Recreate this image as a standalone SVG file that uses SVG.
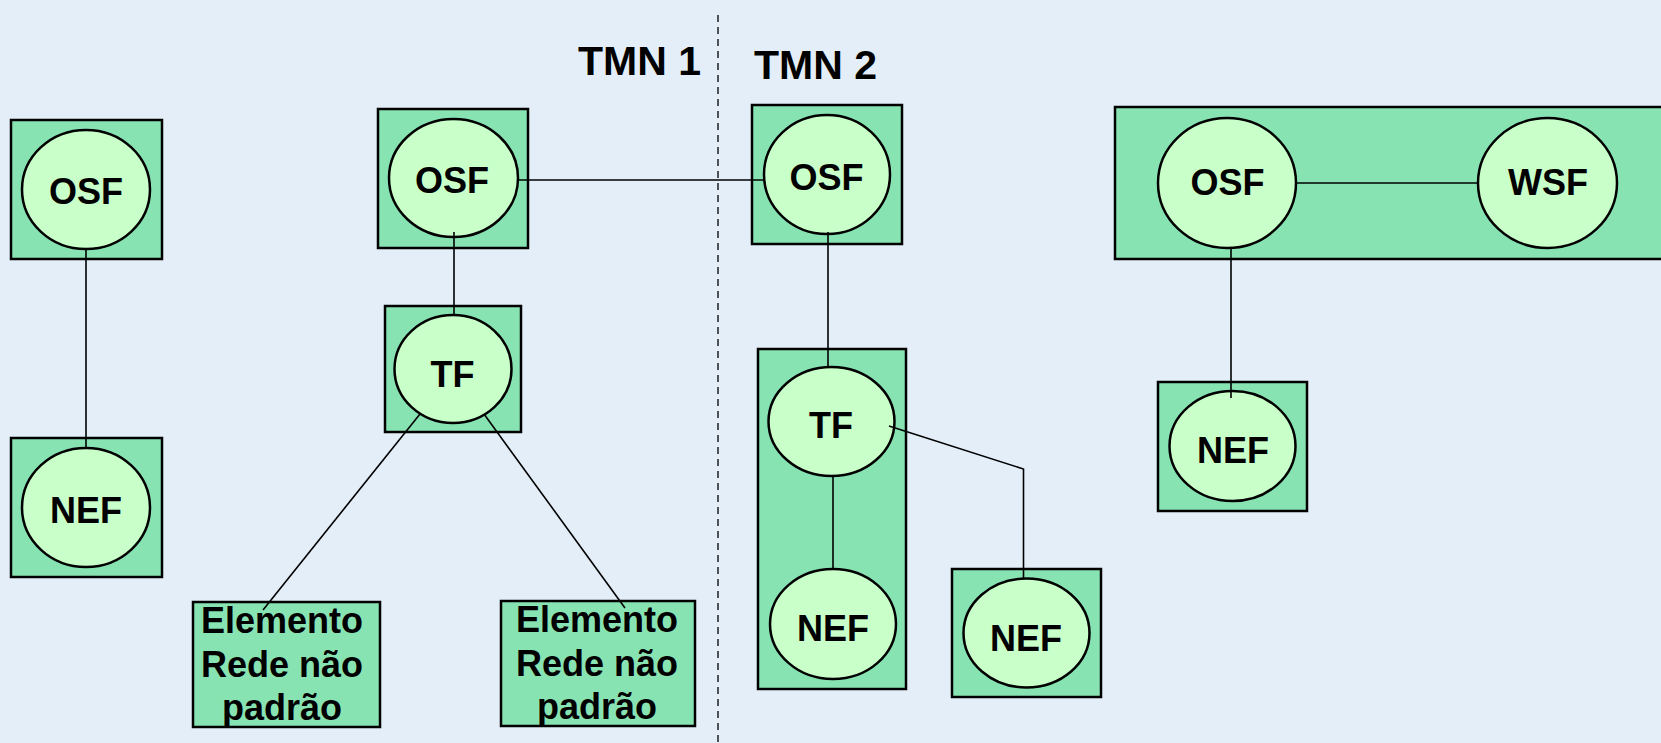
<svg xmlns="http://www.w3.org/2000/svg" width="1661" height="743" viewBox="0 0 1661 743">
<style>
.box{fill:#88E3B3;stroke:#000;stroke-width:2.5}
.ell{fill:#C9FFC9;stroke:#000;stroke-width:2.5}
.lbl{font-family:"Liberation Sans",Arial,sans-serif;font-weight:bold;font-size:36px;fill:#000;text-anchor:middle}
.ttl{font-family:"Liberation Sans",Arial,sans-serif;font-weight:bold;font-size:41px;fill:#000}
.ln{stroke:#000;stroke-width:1.6;fill:none}
</style>
<rect x="0" y="0" width="1661" height="743" fill="#E3EEF9"/>
<line x1="718" y1="15" x2="718" y2="743" stroke="#000" stroke-width="1.3" stroke-dasharray="7,5"/>
<text class="ttl" x="578" y="75">TMN 1</text>
<text class="ttl" x="754" y="79">TMN 2</text>
<g id="osf-left">
<rect class="box" x="11" y="120" width="151" height="139"/>
<ellipse class="ell" cx="86" cy="189.5" rx="64" ry="59.5"/>
<text class="lbl" x="86" y="204">OSF</text>
</g>
<g id="nef-left">
<rect class="box" x="11" y="438" width="151" height="139"/>
<ellipse class="ell" cx="86" cy="507.5" rx="64" ry="59.5"/>
<text class="lbl" x="86" y="523">NEF</text>
</g>
<g id="osf-tmn1">
<rect class="box" x="378" y="109" width="150" height="139"/>
<ellipse class="ell" cx="453.5" cy="178" rx="64.5" ry="59"/>
<text class="lbl" x="452" y="193">OSF</text>
</g>
<g id="tf-tmn1">
<rect class="box" x="385" y="306" width="136" height="126"/>
<ellipse class="ell" cx="453" cy="369" rx="58.5" ry="54"/>
<text class="lbl" x="452.5" y="387">TF</text>
</g>
<g id="elem-1">
<rect class="box" x="193" y="602" width="187" height="125"/>
<text class="lbl" x="282" y="633">Elemento</text>
<text class="lbl" x="282" y="677">Rede não</text>
<text class="lbl" x="282" y="720">padrão</text>
</g>
<g id="elem-2">
<rect class="box" x="501" y="601" width="194" height="125"/>
<text class="lbl" x="597" y="632">Elemento</text>
<text class="lbl" x="597" y="676">Rede não</text>
<text class="lbl" x="597" y="719">padrão</text>
</g>
<g id="osf-tmn2">
<rect class="box" x="752" y="105" width="150" height="139"/>
<ellipse class="ell" cx="827" cy="174.5" rx="63" ry="59.5"/>
<text class="lbl" x="826.5" y="190">OSF</text>
</g>
<g id="tf-nef-tmn2">
<rect class="box" x="758" y="349" width="148" height="340"/>
<ellipse class="ell" cx="831.5" cy="421.5" rx="63" ry="54.5"/>
<text class="lbl" x="831" y="438">TF</text>
<ellipse class="ell" cx="833" cy="624" rx="63" ry="55"/>
<text class="lbl" x="833" y="641">NEF</text>
</g>
<g id="nef-tmn2">
<rect class="box" x="952" y="569" width="149" height="128"/>
<ellipse class="ell" cx="1026.5" cy="633" rx="63" ry="54.5"/>
<text class="lbl" x="1026" y="651">NEF</text>
</g>
<g id="osf-wsf">
<rect class="box" x="1115" y="107" width="560" height="152"/>
<ellipse class="ell" cx="1227" cy="183" rx="69" ry="65"/>
<text class="lbl" x="1227.5" y="195">OSF</text>
<ellipse class="ell" cx="1547.5" cy="183" rx="69.5" ry="65"/>
<text class="lbl" x="1548" y="195">WSF</text>
</g>
<g id="nef-right">
<rect class="box" x="1158" y="382" width="149" height="129"/>
<ellipse class="ell" cx="1232.5" cy="446" rx="63" ry="55"/>
<text class="lbl" x="1233" y="463">NEF</text>
</g>
<g id="connectors">
<line class="ln" x1="86" y1="249" x2="86" y2="448"/>
<line class="ln" x1="454" y1="232" x2="454" y2="315"/>
<line class="ln" x1="518" y1="180" x2="764" y2="180"/>
<line class="ln" x1="420" y1="414" x2="263" y2="610"/>
<line class="ln" x1="484" y1="414" x2="625" y2="608"/>
<line class="ln" x1="828" y1="232" x2="828" y2="367"/>
<line class="ln" x1="833" y1="476" x2="833" y2="569" stroke-width="2"/>
<polyline class="ln" points="889,426 1023.5,469 1023.5,578"/>
<line class="ln" x1="1296" y1="183" x2="1478" y2="183"/>
<line class="ln" x1="1231" y1="248" x2="1231" y2="398"/>
</g>
</svg>
